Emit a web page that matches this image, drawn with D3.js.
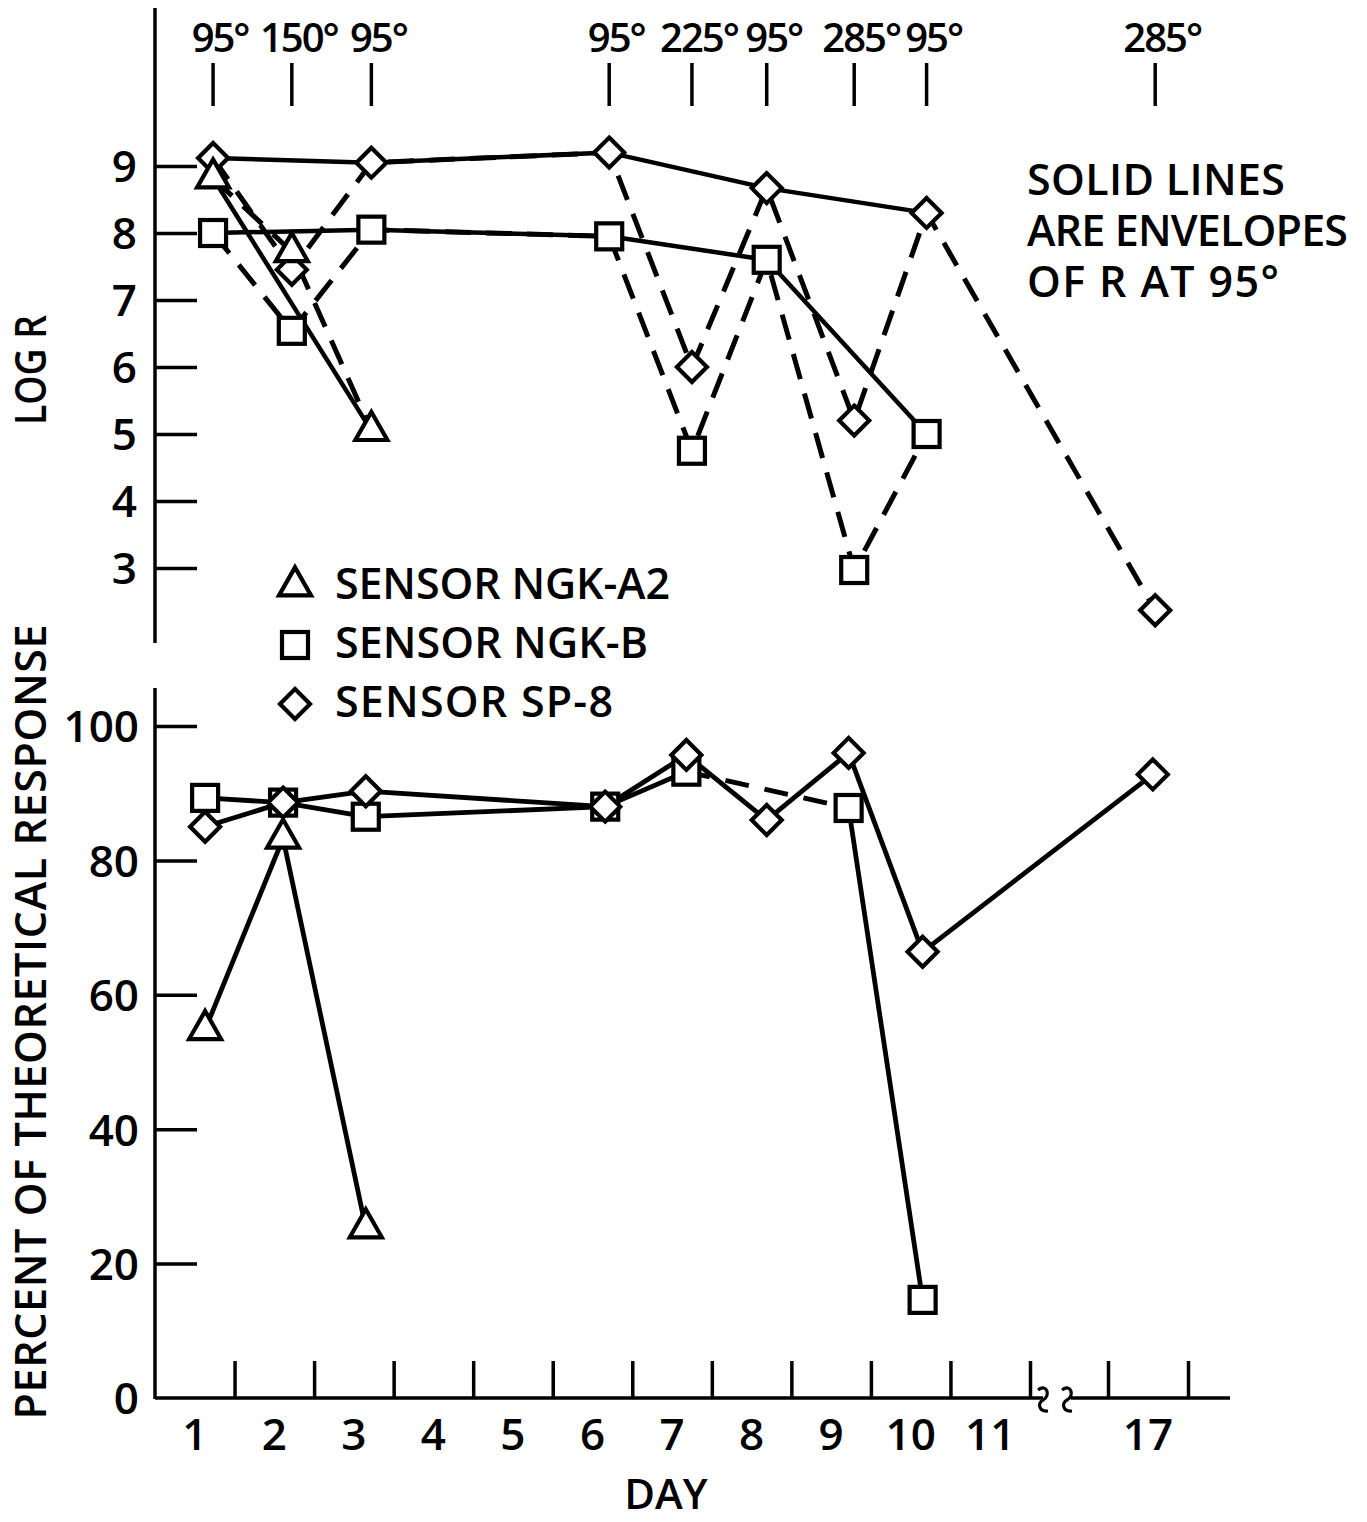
<!DOCTYPE html>
<html><head><meta charset="utf-8">
<script src="https://cdn.jsdelivr.net/npm/d3@7"></script>
<style>body{margin:0;background:#fff}</style>
</head><body>
<svg id="c" width="1367" height="1522" xmlns="http://www.w3.org/2000/svg"></svg>
<script>
// ---------------- DATA ----------------
// measurement times (fractional day) for the upper panel (log R)
const topDays = [1.73, 2.72, 3.72, 6.71, 7.75, 8.69, 9.79, 10.70, 17.59];
const tempLabels = ["95°", "150°", "95°", "95°", "225°", "95°", "285°", "95°", "285°"];
const logR_A2  = [8.82, 7.72, 5.05, null, null, null, null, null, null];
const logR_B   = [8.0, 6.54, 8.05, 7.95, 4.75, 7.6, 2.97, 5.0, null];
const logR_SP8 = [9.12, 7.45, 9.05, 9.2, 6.0, 8.67, 5.2, 8.3, 2.37];

// measurement times for the lower panel (percent of theoretical response)
const botDays = [1.63, 2.61, 3.65, 6.66, 7.68, 8.69, 9.72, 10.65, 17.56];
const pct_A2  = [54.8, 83.3, 25.3, null, null, null, null, null, null];
const pct_B   = [89.3, 88.6, 86.5, 88.0, 93.2, null, 87.8, 14.6, null];
const pct_SP8 = [85.0, 88.6, 90.3, 88.0, 95.7, 86.0, 96.0, 66.4, 92.8];

const dayTickLabels = ["1", "2", "3", "4", "5", "6", "7", "8", "9", "10", "11", "17"];
const dayTickDays   = [1, 2, 3, 4, 5, 6, 7, 8, 9, 10, 11, 17];
const dayBoundaries = [2, 3, 4, 5, 6, 7, 8, 9, 10, 11, 12, 17, 18];
const logTicks = [3, 4, 5, 6, 7, 8, 9];
const pctTicks = [0, 20, 40, 60, 80, 100];
const legendNames = ["SENSOR NGK-A2", "SENSOR NGK-B", "SENSOR SP-8"];
const noteLines = ["SOLID LINES", "ARE ENVELOPES", "OF R AT 95°"];

// ---------------- LAYOUT ----------------
const FONT = "'Open Sans','DejaVu Sans Condensed',sans-serif";
const svg = d3.select("#c");
const AX = 155;
const x = d3.scaleLinear().domain([1, 12, 17, 18]).range([155, 1030, 1108, 1188]);
const yTop = d3.scaleLinear().domain([3, 9]).range([568, 166]);
const yBot = d3.scaleLinear().domain([0, 100]).range([1398, 726]);

const g = svg.append("g");

function marker(sel, type) {
  if (type === "tri") {
    const s = 32, h = 28;
    sel.append("path").attr("d", `M0,${-h*2/3}L${s/2},${h/3}L${-s/2},${h/3}Z`);
  } else if (type === "sq") {
    sel.append("rect").attr("x", -13).attr("y", -13).attr("width", 26).attr("height", 26);
  } else {
    sel.append("path").attr("d", "M0,-15L15,0L0,15L-15,0Z");
  }
}
function styleMarkers(sel) {
  sel.selectAll("path,rect").attr("fill", "#fff").attr("stroke", "#000")
    .attr("stroke-width", 4.2).attr("stroke-linejoin", "miter");
}

// ---------------- AXES ----------------
g.append("line").attr("x1", AX).attr("x2", AX).attr("y1", 8).attr("y2", 643)
  .attr("stroke", "#000").attr("stroke-width", 3.5);
const ayTop = d3.axisLeft(yTop).tickValues(logTicks).tickFormat(d3.format("d"))
  .tickSizeInner(-42).tickSizeOuter(0).tickPadding(18);
const gyt = g.append("g").attr("transform", `translate(${AX},0)`).call(ayTop);
g.append("line").attr("x1", AX).attr("x2", AX).attr("y1", 688).attr("y2", 1399)
  .attr("stroke", "#000").attr("stroke-width", 3.5);
const ayBot = d3.axisLeft(yBot).tickValues(pctTicks.filter(v => v > 0)).tickFormat(d3.format("d"))
  .tickSizeInner(-42).tickSizeOuter(0).tickPadding(16);
const gyb = g.append("g").attr("transform", `translate(${AX},0)`).call(ayBot);
g.append("text").attr("x", AX - 16).attr("y", yBot(0)).attr("dy", "0.36em")
  .attr("text-anchor", "end").text(d3.format("d")(pctTicks[0]));

[gyt, gyb].forEach(a => {
  a.select(".domain").remove();
  a.selectAll(".tick line").attr("stroke", "#000").attr("stroke-width", 3.5);
  a.selectAll(".tick text").attr("dy", "0.36em");
});

// x axis (bottom) with break
const brk1 = 1043, brk2 = 1067;
g.append("line").attr("x1", AX).attr("x2", brk1).attr("y1", 1398).attr("y2", 1398)
  .attr("stroke", "#000").attr("stroke-width", 3.5);
g.append("line").attr("x1", brk2 + 4).attr("x2", 1230).attr("y1", 1398).attr("y2", 1398)
  .attr("stroke", "#000").attr("stroke-width", 3.5);
[brk1, brk2].forEach(bx => {
  g.append("path")
    .attr("d", `M${bx-5},${1390} C${bx+4},${1383} ${bx+8},${1396} ${bx},${1400} C${bx-6},${1403} ${bx-4},${1412} ${bx+5},${1411}`)
    .attr("fill", "none").attr("stroke", "#000").attr("stroke-width", 3.2);
});
const ax = d3.axisBottom(x).tickValues(dayBoundaries).tickSizeInner(-37).tickSizeOuter(0).tickFormat("");
const gx = g.append("g").attr("transform", "translate(0,1398)").call(ax);
gx.select(".domain").remove();
gx.selectAll(".tick line").attr("stroke", "#000").attr("stroke-width", 3.5);

g.selectAll("text.day").data(dayTickDays).enter().append("text")
  .attr("class", "day").attr("x", d => x(d + 0.5)).attr("y", 1450)
  .attr("text-anchor", "middle").text((d, i) => dayTickLabels[i]);

// temperature labels along the top
g.selectAll("line.tt").data(topDays).enter().append("line")
  .attr("x1", d => x(d)).attr("x2", d => x(d)).attr("y1", 63).attr("y2", 106)
  .attr("stroke", "#000").attr("stroke-width", 3.5);
g.selectAll("text.tl").data(topDays).enter().append("text")
  .attr("class", "tl").attr("x", d => x(d) + 7).attr("y", 52)
  .attr("text-anchor", "middle").attr("font-size", 40).attr("letter-spacing", -2)
  .text((d, i) => tempLabels[i]);

// ---------------- LINES ----------------
const lineTop = d3.line().x(d => x(d[0])).y(d => yTop(d[1]));
const lineBot = d3.line().x(d => x(d[0])).y(d => yBot(d[1]));
const dash = "26 15";

function pts(days, vals, filt) {
  return vals.map((v, i) => [days[i], v, i]).filter(p => p[1] != null && (!filt || filt(p[2])));
}
const is95 = i => tempLabels[i] === "95°";

const lg = g.append("g").attr("fill", "none").attr("stroke", "#000").attr("stroke-linejoin", "round");
[logR_A2, logR_B, logR_SP8].forEach(vals => {
  lg.append("path").attr("d", lineTop(pts(topDays, vals))).attr("stroke-width", 5).attr("stroke-dasharray", dash);
  lg.append("path").attr("d", lineTop(pts(topDays, vals, is95))).attr("stroke-width", 4.5);
});
[pct_A2, pct_B, pct_SP8].forEach(vals => {
  const p = pts(botDays, vals);
  for (let k = 0; k < p.length - 1; k++) {
    const gap = p[k + 1][2] - p[k][2] > 1;
    const s = lg.append("path").attr("d", lineBot([p[k], p[k + 1]])).attr("stroke-width", gap ? 5 : 4.8);
    if (gap) s.attr("stroke-dasharray", "24 16");
  }
});

// ---------------- MARKERS ----------------
const mg = g.append("g");
function drawMarkers(days, vals, yS, type) {
  pts(days, vals).forEach(p => {
    const m = mg.append("g").attr("transform", `translate(${x(p[0])},${yS(p[1])})`);
    marker(m, type);
    styleMarkers(m);
  });
}
drawMarkers(topDays, logR_B, yTop, "sq");
drawMarkers(topDays, logR_SP8, yTop, "dia");
drawMarkers(topDays, logR_A2, yTop, "tri");
drawMarkers(botDays, pct_B, yBot, "sq");
drawMarkers(botDays, pct_SP8, yBot, "dia");
drawMarkers(botDays, pct_A2, yBot, "tri");

// ---------------- LEGEND ----------------
const legTypes = ["tri", "sq", "dia"];
const legWidths = [335, 313, 278];
legendNames.forEach((n, i) => {
  const cy = 586 + i * 59;
  const m = g.append("g").attr("transform", `translate(295,${cy})`);
  marker(m, legTypes[i]); styleMarkers(m);
  g.append("text").attr("x", 335).attr("y", cy + 13).attr("font-size", 43)
    .attr("textLength", legWidths[i]).attr("lengthAdjust", "spacing").text(n);
});

// note (one multi-line text block)
const noteW = [258, 321, 252];
const note = g.append("text").attr("x", 1027).attr("y", 195).attr("font-size", 43);
noteLines.forEach((t, i) => {
  note.append("tspan").attr("x", 1027).attr("dy", i === 0 ? 0 : 51)
    .attr("textLength", noteW[i]).attr("lengthAdjust", "spacing").text(t);
});

// axis titles
g.append("text").attr("transform", "translate(46,370) rotate(-90)").attr("text-anchor", "middle")
  .attr("font-size", 43).attr("textLength", 110).attr("lengthAdjust", "spacingAndGlyphs").text("LOG R");
g.append("text").attr("transform", "translate(46,1022) rotate(-90)").attr("text-anchor", "middle")
  .attr("font-size", 43).attr("textLength", 795).attr("lengthAdjust", "spacing").text("PERCENT OF THEORETICAL RESPONSE");
g.append("text").attr("x", 666).attr("y", 1509).attr("text-anchor", "middle")
  .attr("font-size", 42).text("DAY");

// global text style
svg.selectAll("text").attr("font-family", FONT).attr("font-weight", 600).attr("fill", "#000")
  .each(function () { if (!this.getAttribute("font-size")) this.setAttribute("font-size", 44); });
</script>
</body></html>
